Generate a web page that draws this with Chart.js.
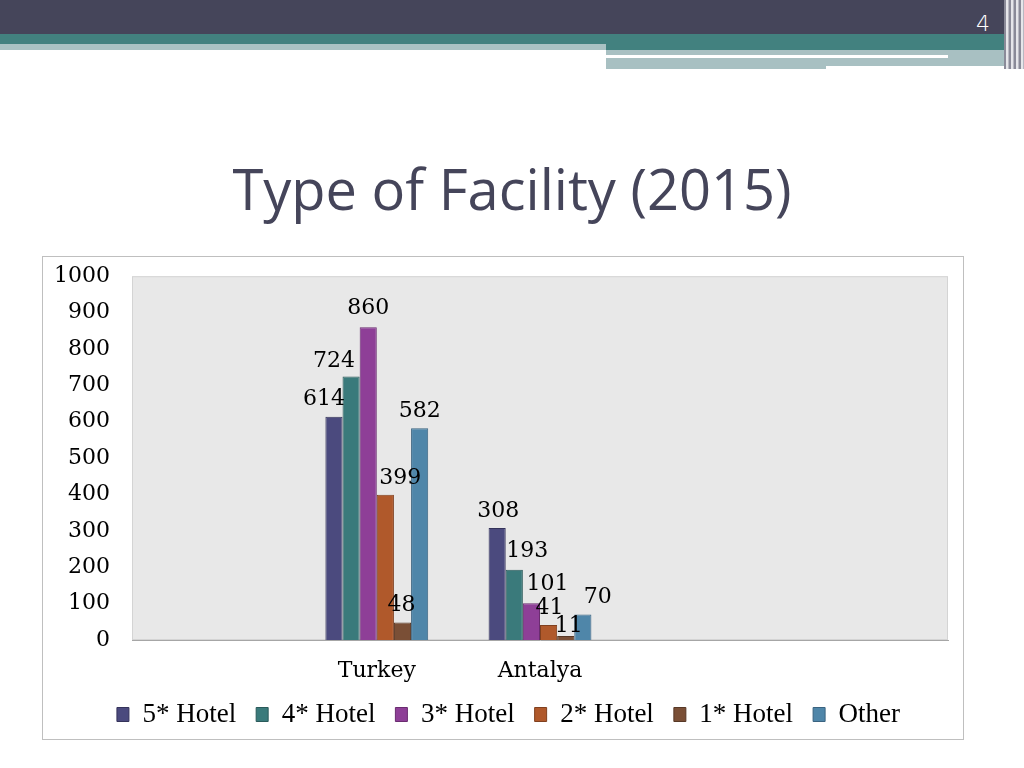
<!DOCTYPE html>
<html>
<head>
    <title>Type of Facility (2015)</title>
    <script src="https://cdn.jsdelivr.net/npm/chart.js"></script>
    <style>
        body {
            margin: 0;
            width: 1024px;
            height: 768px;
            background: #fff;
            position: relative;
            overflow: hidden;
        }

        .band-dark { position: absolute; left: 0; top: 0; width: 1024px; height: 34px; background: #45455a; }
        .band-teal-l { position: absolute; left: 0; top: 34px; width: 606px; height: 10px; background: #42817f; }
        .band-light-l { position: absolute; left: 0; top: 44px; width: 606px; height: 6px; background: #a9c2c3; }
        .band-teal-r { position: absolute; left: 606px; top: 34px; width: 400px; height: 16px; background: #42817f; }
        .band-light-r { position: absolute; left: 606px; top: 50px; width: 400px; height: 16px; background: #a8c0c2; }
        .band-line-r { position: absolute; left: 606px; top: 55px; width: 342px; height: 3px; background: #fff; }
        .band-low-r { position: absolute; left: 606px; top: 66px; width: 220px; height: 3px; background: #a8c0c2; }
        .stripes {
            position: absolute; left: 1004px; top: 0; width: 20px; height: 69px;
            background: repeating-linear-gradient(90deg, #8a8a98 0 2px, #e6e6ea 2px 4px, #b8b8c2 4px 5px);
        }
        .page-num {
            position: absolute; left: 972px; top: 11px; width: 22px;
            color: #fff; font-family: "DejaVu Sans", sans-serif; font-size: 22px; font-weight: 300;
            text-align: center;
        }

        h1 {
            position: absolute; left: 0; top: 150px; width: 1024px; margin: 0;
            text-align: center;
            font-family: "Open Sans", sans-serif;
            font-weight: normal;
            font-size: 56px;
            color: #45455a;
        }

        #chart-border {
            position: absolute;
            left: 42px;
            top: 256px;
            width: 920px;
            height: 482px;
            border: 1px solid #bfbfbf;
        }

        #chart-box {
            position: absolute;
            left: 43px;
            top: 241px;
            width: 920px;
            height: 498px;
        }
    </style>
</head>
<body>
    <div class="band-dark"></div>
    <div class="band-teal-l"></div>
    <div class="band-light-l"></div>
    <div class="band-teal-r"></div>
    <div class="band-light-r"></div>
    <div class="band-line-r"></div>
    <div class="band-low-r"></div>
    <div class="stripes"></div>
    <div class="page-num">4</div>

    <h1>Type of Facility (2015)</h1>

    <div id="chart-border"></div>
    <div id="chart-box">
        <canvas id="chart"></canvas>
    </div>

    <script>
        // chart values
        const categories = ['', 'Turkey', 'Antalya', '', ''];
        const seriesNames = ['5* Hotel', '4* Hotel', '3* Hotel', '2* Hotel', '1* Hotel', 'Other'];
        const hotel5 = [null, 614, 308, null, null];
        const hotel4 = [null, 724, 193, null, null];
        const hotel3 = [null, 860, 101, null, null];
        const hotel2 = [null, 399, 41, null, null];
        const hotel1 = [null, 48, 11, null, null];
        const other = [null, 582, 70, null, null];
        const yTicks = [0, 100, 200, 300, 400, 500, 600, 700, 800, 900, 1000];

        const fillColors = ['#4b4a7e', '#3a7a7b', '#8e3f97', '#b0592b', '#7a4f36', '#4f86a9'];
        const edgeColors = ['#34335a', '#2a5a5a', '#6a2c70', '#80401f', '#573826', '#3a6380'];

        // label nudges (x, y) per series, per category, like the reference layout
        const labelNudge = [
            [[0, 0], [-10, 0], [1, 0]],
            [[0, 0], [-17, 2], [13, -2]],
            [[0, 0], [0, -2], [16, -2]],
            [[0, 0], [15, 0], [1, 0]],
            [[0, 0], [-1, 0], [3, 7]],
            [[0, 0], [0, 0], [15, 0]]
        ];

        const plotBackground = {
            id: 'plotBackground',
            beforeDraw(chart) {
                const { ctx, chartArea: a } = chart;
                ctx.save();
                ctx.fillStyle = '#e8e8e8';
                ctx.fillRect(a.left, a.top, a.right - a.left, a.bottom - a.top);
                ctx.strokeStyle = '#d4d4d4';
                ctx.lineWidth = 1;
                ctx.strokeRect(a.left + 0.5, a.top + 0.5, a.right - a.left - 1, a.bottom - a.top - 1);
                ctx.restore();
            }
        };

        const valueLabels = {
            id: 'valueLabels',
            afterDatasetsDraw(chart) {
                const ctx = chart.ctx;
                ctx.save();
                ctx.font = '22px "DejaVu Serif", serif';
                ctx.fillStyle = '#000';
                ctx.textAlign = 'center';
                ctx.textBaseline = 'middle';
                chart.data.datasets.forEach((ds, i) => {
                    const meta = chart.getDatasetMeta(i);
                    meta.data.forEach((bar, j) => {
                        const v = ds.data[j];
                        if (v === null) return;
                        const n = (labelNudge[i] && labelNudge[i][j]) || [0, 0];
                        ctx.fillText(String(v), bar.x + n[0], bar.y - 17 + n[1]);
                    });
                });
                ctx.restore();
            }
        };

        // the legend in the original sits a bit right of the plot centre
        const legendShift = {
            id: 'legendShift',
            afterLayout(chart) {
                const lg = chart.legend;
                lg.left += 13;
                lg.right += 13;
                lg.top -= 1;
                lg.bottom -= 1;
            }
        };

        const allSeries = [hotel5, hotel4, hotel3, hotel2, hotel1, other];

        const ctx = document.getElementById('chart').getContext('2d');
        new Chart(ctx, {
            type: 'bar',
            data: {
                labels: categories,
                datasets: allSeries.map((values, i) => ({
                    label: seriesNames[i],
                    data: values,
                    backgroundColor: fillColors[i],
                    borderColor: edgeColors[i],
                    borderWidth: 1,
                    barPercentage: 1,
                    categoryPercentage: 0.63
                }))
            },
            options: {
                responsive: true,
                maintainAspectRatio: false,
                animation: false,
                layout: {
                    padding: { top: 4, right: 15, left: 0, bottom: 0 }
                },
                plugins: {
                    tooltip: { enabled: false },
                    legend: {
                        position: 'bottom',
                        labels: {
                            boxWidth: 12,
                            boxHeight: 14,
                            padding: 20,
                            color: '#000',
                            font: { family: '"Liberation Serif", serif', size: 27 }
                        }
                    }
                },
                scales: {
                    x: {
                        grid: { display: false, drawTicks: false },
                        border: { color: '#a6a6a6' },
                        afterFit(axis) {
                            axis.height = 42;
                        },
                        ticks: {
                            color: '#000',
                            padding: 20,
                            font: { family: '"DejaVu Serif", serif', size: 22, lineHeight: 1 }
                        }
                    },
                    y: {
                        min: 0,
                        max: 1000,
                        afterBuildTicks(axis) {
                            axis.ticks = yTicks.map(v => ({ value: v }));
                        },
                        afterFit(axis) {
                            axis.width = 89;
                        },
                        grid: { display: false, drawTicks: false },
                        border: { display: false },
                        ticks: {
                            color: '#000',
                            padding: 22,
                            callback: v => String(v),
                            font: { family: '"DejaVu Serif", serif', size: 22 }
                        }
                    }
                }
            },
            plugins: [plotBackground, valueLabels, legendShift]
        });
    </script>
</body>
</html>
